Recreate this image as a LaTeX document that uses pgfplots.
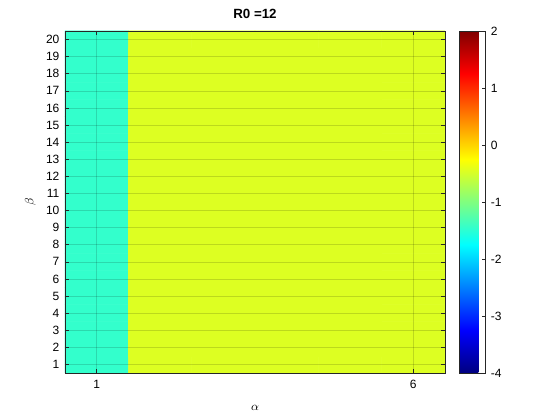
\documentclass[border=0pt]{standalone}
\usepackage{fontspec}
\setmainfont{Liberation Sans}
\usepackage{pgfplots}
\pgfplotsset{compat=1.18}
\begin{document}
\fontsize{9pt}{11pt}\selectfont
\begin{tikzpicture}
\path[use as bounding box] (-48.75pt,-35.25pt) rectangle (371.25pt,279.75pt);
\begin{axis}[
    at={(0,0)}, anchor=south west,
    scale only axis, width=285pt, height=256.5pt,
    xmin=0.5, xmax=6.5, ymin=0.5, ymax=20.5,
    xtick={1,6}, ytick={1,...,20},
    tick align=inside, major tick length=3pt,
    /pgf/number format/assume math mode=true,
    tick label style={font=\fontsize{9pt}{10pt}\selectfont},
    xticklabel style={yshift=-2pt},
    yticklabel style={xshift=-1pt},
    axis line style={black!85},
    every tick/.style={black!85},
    axis on top, grid=major,
    major grid style={black, opacity=0.15, line width=0.4pt},
    title={\textbf{R0 =12}},
    title style={at={(0.5,1)}, anchor=center, yshift=6.5pt, font=\fontsize{10pt}{12pt}\selectfont},
    xlabel={$\alpha$},
    xlabel style={at={(0.5,0)}, anchor=center, yshift=-26pt},
    ylabel={$\beta$},
    ylabel style={at={(0,0.5)}, anchor=center, yshift=26pt},
    colormap/jet, point meta min=-4, point meta max=2,
    colorbar,
    colorbar style={
        at={(parent axis.north east)}, anchor=north west, xshift=2.25pt,
        width=19.5pt, xmin=0, xmax=1, enlargelimits=false,
        ytick={-4,-3,...,2},
        ytick pos=right, tick align=inside, major tick length=2.5pt,
        yticklabel style={font=\fontsize{9pt}{10pt}\selectfont, xshift=1pt},
        /pgf/number format/assume math mode=true,
        axis line style={black!85},
    },
]
\addplot[matrix plot*, mesh/cols=6, point meta=explicit] coordinates {
(1,1) [-1.45] (2,1) [-0.45] (3,1) [-0.45] (4,1) [-0.45] (5,1) [-0.45] (6,1) [-0.45]
(1,2) [-1.45] (2,2) [-0.45] (3,2) [-0.45] (4,2) [-0.45] (5,2) [-0.45] (6,2) [-0.45]
(1,3) [-1.45] (2,3) [-0.45] (3,3) [-0.45] (4,3) [-0.45] (5,3) [-0.45] (6,3) [-0.45]
(1,4) [-1.45] (2,4) [-0.45] (3,4) [-0.45] (4,4) [-0.45] (5,4) [-0.45] (6,4) [-0.45]
(1,5) [-1.45] (2,5) [-0.45] (3,5) [-0.45] (4,5) [-0.45] (5,5) [-0.45] (6,5) [-0.45]
(1,6) [-1.45] (2,6) [-0.45] (3,6) [-0.45] (4,6) [-0.45] (5,6) [-0.45] (6,6) [-0.45]
(1,7) [-1.45] (2,7) [-0.45] (3,7) [-0.45] (4,7) [-0.45] (5,7) [-0.45] (6,7) [-0.45]
(1,8) [-1.45] (2,8) [-0.45] (3,8) [-0.45] (4,8) [-0.45] (5,8) [-0.45] (6,8) [-0.45]
(1,9) [-1.45] (2,9) [-0.45] (3,9) [-0.45] (4,9) [-0.45] (5,9) [-0.45] (6,9) [-0.45]
(1,10) [-1.45] (2,10) [-0.45] (3,10) [-0.45] (4,10) [-0.45] (5,10) [-0.45] (6,10) [-0.45]
(1,11) [-1.45] (2,11) [-0.45] (3,11) [-0.45] (4,11) [-0.45] (5,11) [-0.45] (6,11) [-0.45]
(1,12) [-1.45] (2,12) [-0.45] (3,12) [-0.45] (4,12) [-0.45] (5,12) [-0.45] (6,12) [-0.45]
(1,13) [-1.45] (2,13) [-0.45] (3,13) [-0.45] (4,13) [-0.45] (5,13) [-0.45] (6,13) [-0.45]
(1,14) [-1.45] (2,14) [-0.45] (3,14) [-0.45] (4,14) [-0.45] (5,14) [-0.45] (6,14) [-0.45]
(1,15) [-1.45] (2,15) [-0.45] (3,15) [-0.45] (4,15) [-0.45] (5,15) [-0.45] (6,15) [-0.45]
(1,16) [-1.45] (2,16) [-0.45] (3,16) [-0.45] (4,16) [-0.45] (5,16) [-0.45] (6,16) [-0.45]
(1,17) [-1.45] (2,17) [-0.45] (3,17) [-0.45] (4,17) [-0.45] (5,17) [-0.45] (6,17) [-0.45]
(1,18) [-1.45] (2,18) [-0.45] (3,18) [-0.45] (4,18) [-0.45] (5,18) [-0.45] (6,18) [-0.45]
(1,19) [-1.45] (2,19) [-0.45] (3,19) [-0.45] (4,19) [-0.45] (5,19) [-0.45] (6,19) [-0.45]
(1,20) [-1.45] (2,20) [-0.45] (3,20) [-0.45] (4,20) [-0.45] (5,20) [-0.45] (6,20) [-0.45]
};
\end{axis}
\end{tikzpicture}
\end{document}
